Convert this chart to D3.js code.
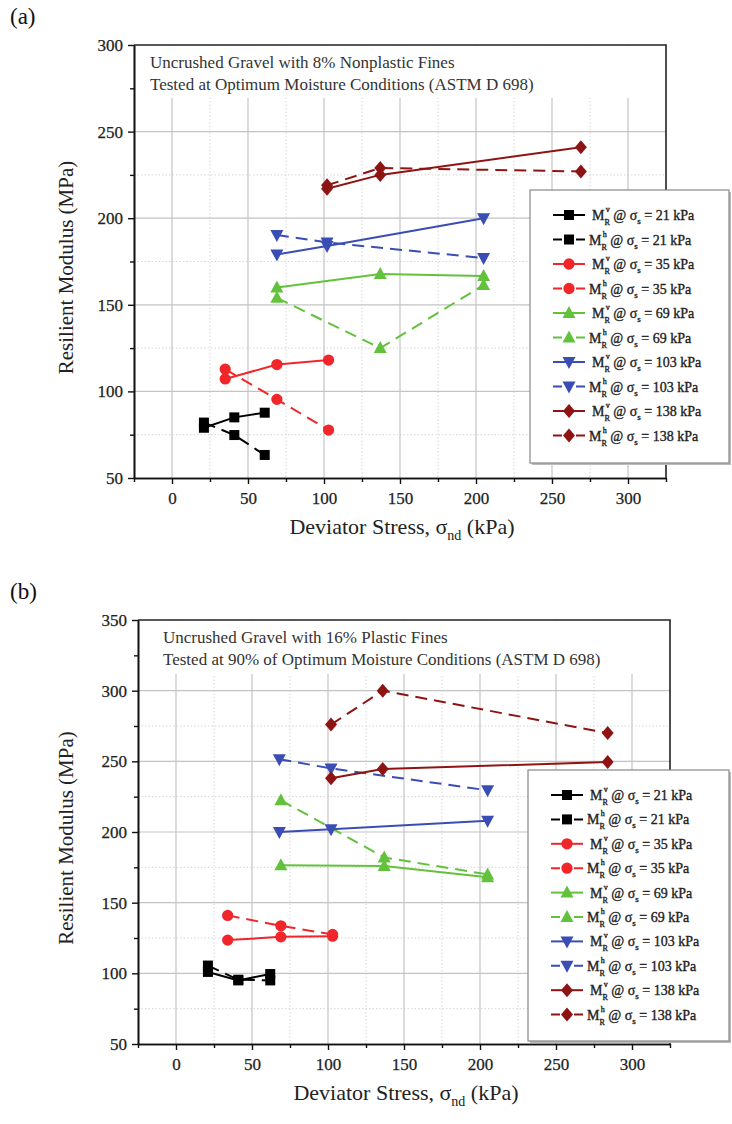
<!DOCTYPE html>
<html>
<head>
<meta charset="utf-8">
<script src="https://cdn.jsdelivr.net/npm/d3@7"></script>
<style>
  body { margin: 0; background: #fff; }
  svg { display: block; }
</style>
</head>
<body>
<script>
// confining stress levels (legend order)
const confining = [21, 35, 69, 103, 138];
const xTicks = [0, 50, 100, 150, 200, 250, 300];

// panel (a) - 8% nonplastic fines, optimum moisture
const aX21 = [21, 41, 61];   const aV21 = [79, 85, 87.7];  const aH21 = [82, 74.8, 63.3];
const aX35 = [35, 69, 103];  const aV35 = [107.2, 115.5, 118.1]; const aH35 = [112.8, 95.4, 77.7];
const aX69 = [69, 137, 205]; const aV69 = [160, 167.8, 166.6];  const aH69 = [154, 125, 161.4];
const aX103 = [69, 102, 205]; const aV103 = [179, 184, 200];  const aH103 = [190.3, 186, 177];
const aX138 = [102, 137, 269]; const aV138 = [217, 225, 241]; const aH138 = [219, 229, 227];
const aYTicks = [50, 100, 150, 200, 250, 300];
const aNote = ['Uncrushed Gravel with 8% Nonplastic Fines', 'Tested at Optimum Moisture Conditions (ASTM D 698)'];

// panel (b) - 16% plastic fines, 90% of optimum moisture
const bX21 = [21, 41, 62];   const bV21 = [101, 95, 99.5]; const bH21 = [105.5, 95.5, 95];
const bX35 = [34, 69, 103];  const bV35 = [123.5, 125.8, 126.3]; const bH35 = [141, 133.6, 127.5];
const bX69 = [69, 137, 205]; const bV69 = [176.5, 176, 168];  const bH69 = [222.5, 182, 170];
const bX103 = [68, 102, 205]; const bV103 = [200, 202, 208];  const bH103 = [251.5, 245, 229.5];
const bX138 = [102, 136, 284]; const bV138 = [238, 244.5, 249.5]; const bH138 = [276, 300, 270];
const bYTicks = [50, 100, 150, 200, 250, 300, 350];
const bNote = ['Uncrushed Gravel with 16% Plastic Fines', 'Tested at 90% of Optimum Moisture Conditions (ASTM D 698)'];

const COLORS = ['#000000', '#f0262a', '#62c23c', '#3a4db4', '#8e1414'];
const SYMBOLS = ['square', 'circle', 'up', 'down', 'diamond'];
const FONT = "'Liberation Serif', 'DejaVu Serif', serif";

const svg = d3.select('body').append('svg')
  .attr('width', 732).attr('height', 1124)
  .style('font-family', FONT);

function markerPath(i) {
  const s = SYMBOLS[i];
  if (s === 'up') return 'M0,-7L6.5,5L-6.5,5Z';
  if (s === 'down') return 'M0,7L6.5,-5L-6.5,-5Z';
  if (s === 'diamond') return 'M0,-7L6,0L0,7L-6,0Z';
  if (s === 'square') return d3.symbol(d3.symbolSquare, 100)();
  return d3.symbol(d3.symbolCircle, 100)();
}

function makeSeries(xs, vs, hs, i) {
  return [
    {pts: xs.map((x, k) => [x, vs[k]]), color: COLORS[i], sym: i, dash: false},
    {pts: xs.map((x, k) => [x, hs[k]]), color: COLORS[i], sym: i, dash: true}
  ];
}

function drawPanel(p) {
  const x = d3.scaleLinear().domain([-25, 325]).range([p.left, p.right]);
  const y = d3.scaleLinear().domain([p.yTicks[0], p.yTicks[p.yTicks.length - 1]]).range([p.bottom, p.top]);
  const g = svg.append('g');
  const yMax = p.yTicks[p.yTicks.length - 1];

  // grid
  const minorX = d3.range(25, 300, 50);
  const minorY = d3.range(p.yTicks[0] + 25, yMax, 50);
  g.selectAll('.gmx').data(minorX).join('line')
    .attr('x1', d => x(d)).attr('x2', d => x(d)).attr('y1', p.top).attr('y2', p.bottom)
    .attr('stroke', '#d6d6d6').attr('stroke-dasharray', '1.5,2');
  g.selectAll('.gmy').data(minorY).join('line')
    .attr('x1', p.left).attr('x2', p.right).attr('y1', d => y(d)).attr('y2', d => y(d))
    .attr('stroke', '#d6d6d6').attr('stroke-dasharray', '1.5,2');
  g.selectAll('.gx').data(xTicks).join('line')
    .attr('x1', d => x(d)).attr('x2', d => x(d)).attr('y1', p.top).attr('y2', p.bottom)
    .attr('stroke', '#c4c4c4').attr('stroke-width', 1.2);
  g.selectAll('.gy').data(p.yTicks.slice(1, -1)).join('line')
    .attr('x1', p.left).attr('x2', p.right).attr('y1', d => y(d)).attr('y2', d => y(d))
    .attr('stroke', '#c4c4c4').attr('stroke-width', 1.2);

  // note box hides grid at the top
  g.append('rect').attr('x', p.left + 1).attr('y', p.top + 1)
    .attr('width', p.right - p.left - 2).attr('height', p.noteH).attr('fill', '#fff');
  g.selectAll('.note').data(p.note).join('text')
    .attr('x', p.left + p.noteDx).attr('y', (d, i) => p.top + 23 + i * 22)
    .attr('font-size', 17).attr('fill', '#333').text(d => d);

  // series
  const line = d3.line().x(d => x(d[0])).y(d => y(d[1]));
  p.series.forEach(s => {
    g.append('path').attr('d', line(s.pts)).attr('fill', 'none')
      .attr('stroke', s.color).attr('stroke-width', 2)
      .attr('stroke-dasharray', s.dash ? '12,7' : null);
    g.selectAll(null).data(s.pts).join('path')
      .attr('transform', d => `translate(${x(d[0])},${y(d[1])})`)
      .attr('d', markerPath(s.sym)).attr('fill', s.color);
  });

  // axes
  const ax = g.append('g').attr('transform', `translate(0,${p.bottom})`)
    .call(d3.axisBottom(x).tickValues(xTicks).tickSize(6).tickSizeOuter(0).tickPadding(8));
  g.append('g').attr('transform', `translate(0,${p.bottom})`)
    .call(d3.axisBottom(x).tickValues(d3.range(-25, 326, 50)).tickSize(4).tickSizeOuter(0).tickFormat(''));
  const ay = g.append('g').attr('transform', `translate(${p.left},0)`)
    .call(d3.axisLeft(y).tickValues(p.yTicks).tickSize(6).tickSizeOuter(0).tickPadding(5));
  g.append('g').attr('transform', `translate(${p.left},0)`)
    .call(d3.axisLeft(y).tickValues(minorY).tickSize(4).tickSizeOuter(0).tickFormat(''));
  g.selectAll('.domain').attr('stroke', '#111').attr('stroke-width', 1.6);
  g.selectAll('.tick line').attr('stroke', '#111').attr('stroke-width', 1.4);
  [ax, ay].forEach(a => a.selectAll('text').attr('font-family', FONT).attr('font-size', 17)
    .attr('fill', '#222').attr('stroke', '#222').attr('stroke-width', 0.25));

  // frame top & right
  g.append('path').attr('d', `M${p.left},${p.top}H${p.right}V${p.bottom}`)
    .attr('fill', 'none').attr('stroke', '#222').attr('stroke-width', 1.6);

  // axis titles
  const xt = g.append('text').attr('x', (p.left + p.right) / 2 + 2).attr('y', p.bottom + 56)
    .attr('text-anchor', 'middle').attr('font-size', 22).attr('fill', '#222');
  xt.append('tspan').text('Deviator Stress, σ');
  xt.append('tspan').attr('font-size', 14).attr('dy', 6).text('nd');
  xt.append('tspan').attr('dy', -6).text(' (kPa)');
  g.append('text').attr('transform', `translate(73,${(p.top + p.bottom) / 2 + 6}) rotate(-90)`)
    .attr('text-anchor', 'middle').attr('font-size', 21).attr('fill', '#222')
    .text('Resilient Modulus (MPa)');

  // panel label
  svg.append('text').attr('x', 10).attr('y', p.top - 21).attr('font-size', 23)
    .attr('fill', '#111').text(p.label);

  // legend
  const L = p.legend;
  const lg = g.append('g');
  lg.append('rect').attr('x', L.x + 2).attr('y', L.y + 2).attr('width', L.w).attr('height', L.h)
    .attr('fill', '#bbb');
  lg.append('rect').attr('x', L.x).attr('y', L.y).attr('width', L.w).attr('height', L.h)
    .attr('fill', '#fff').attr('stroke', '#888').attr('stroke-width', 1.2);
  p.series.forEach((s, i) => {
    const ry = L.y + L.first + i * L.step;
    const cx = L.x + 39;
    lg.append('line').attr('x1', L.x + 23).attr('x2', L.x + 55).attr('y1', ry).attr('y2', ry)
      .attr('stroke', s.color).attr('stroke-width', 2)
      .attr('stroke-dasharray', s.dash ? '9,14,9' : null);
    lg.append('path').attr('transform', `translate(${cx},${ry})`)
      .attr('d', markerPath(s.sym)).attr('fill', s.color);
    const t = lg.append('text').attr('x', L.x + (s.dash ? 59 : 62)).attr('y', ry + 5)
      .attr('font-size', 14).attr('fill', '#222').attr('stroke', '#222').attr('stroke-width', 0.35);
    t.append('tspan').text('M');
    t.append('tspan').attr('font-size', 8).attr('dy', 5).text('R');
    t.append('tspan').attr('font-size', 8).attr('dx', -4).attr('dy', -13).text(s.dash ? 'h' : 'v');
    t.append('tspan').attr('dy', 8).text(' @ σ');
    t.append('tspan').attr('font-size', 9).attr('dy', 4).text('s');
    t.append('tspan').attr('dy', -4).text(` = ${confining[Math.floor(i / 2)]} kPa`);
  });
}

drawPanel({
  label: '(a)', top: 45, bottom: 478, left: 134, right: 666, yTicks: aYTicks,
  note: aNote, noteH: 52, noteDx: 16,
  legend: {x: 530, y: 190, w: 199, h: 273, first: 25, step: 24.5},
  series: [].concat(makeSeries(aX21, aV21, aH21, 0), makeSeries(aX35, aV35, aH35, 1),
    makeSeries(aX69, aV69, aH69, 2), makeSeries(aX103, aV103, aH103, 3),
    makeSeries(aX138, aV138, aH138, 4))
});

drawPanel({
  label: '(b)', top: 620, bottom: 1044, left: 138, right: 670, yTicks: bYTicks,
  note: bNote, noteH: 53, noteDx: 25,
  legend: {x: 528, y: 770, w: 201, h: 271, first: 25, step: 24.4},
  series: [].concat(makeSeries(bX21, bV21, bH21, 0), makeSeries(bX35, bV35, bH35, 1),
    makeSeries(bX69, bV69, bH69, 2), makeSeries(bX103, bV103, bH103, 3),
    makeSeries(bX138, bV138, bH138, 4))
});
</script>
</body>
</html>
